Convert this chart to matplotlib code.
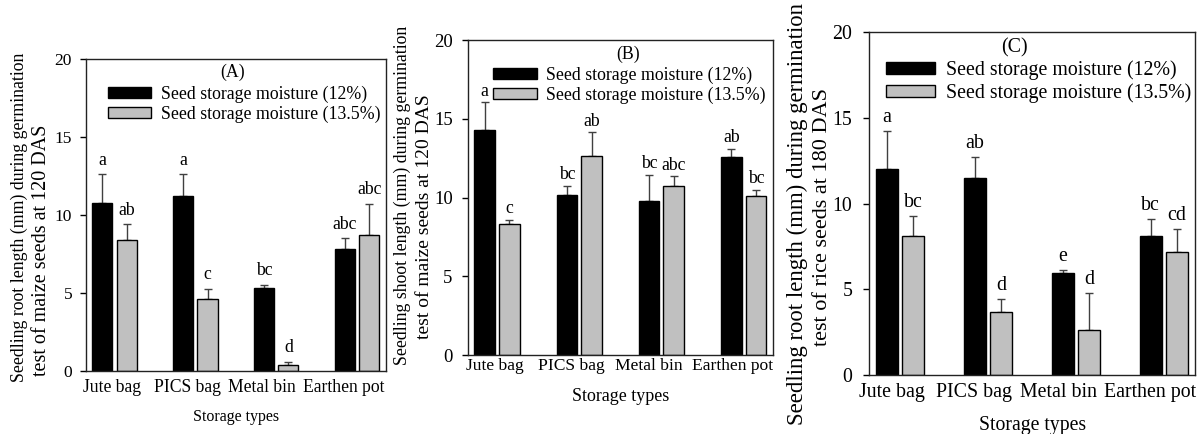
import numpy as np
import matplotlib
matplotlib.use('Agg')
import matplotlib.pyplot as plt

plt.rcParams['font.family'] = ['Liberation Serif', 'DejaVu Serif']

# data
storage_types = ['Jute bag', 'PICS bag', 'Metal bin', 'Earthen pot']

# (A) root length, maize, 120 DAS
a_m12 = [10.8, 11.2, 5.3, 7.8]
a_m12_err = [1.8, 1.4, 0.2, 0.7]
a_m135 = [8.4, 4.6, 0.4, 8.7]
a_m135_err = [1.0, 0.65, 0.17, 2.0]
a_m12_letters = ['a', 'a', 'bc', 'abc']
a_m135_letters = ['ab', 'c', 'd', 'abc']

# (B) shoot length, maize, 120 DAS
b_m12 = [14.3, 10.15, 9.8, 12.6]
b_m12_err = [1.75, 0.6, 1.65, 0.5]
b_m135 = [8.3, 12.65, 10.75, 10.1]
b_m135_err = [0.3, 1.5, 0.62, 0.4]
b_m12_letters = ['a', 'bc', 'bc', 'ab']
b_m135_letters = ['c', 'ab', 'abc', 'bc']

# (C) root length, rice, 180 DAS
c_m12 = [12.0, 11.5, 5.95, 8.1]
c_m12_err = [2.2, 1.2, 0.2, 0.97]
c_m135 = [8.1, 3.65, 2.6, 7.15]
c_m135_err = [1.2, 0.8, 2.2, 1.37]
c_m12_letters = ['a', 'ab', 'e', 'bc']
c_m135_letters = ['bc', 'd', 'd', 'cd']

legend_labels = ['Seed storage moisture (12%)', 'Seed storage moisture (13.5%)']

panels = [
    dict(tag='(A)', m12=a_m12, e12=a_m12_err, m135=a_m135, e135=a_m135_err,
         l12=a_m12_letters, l135=a_m135_letters,
         ylab1='Seedling root length (mm) during germination',
         ylab2='test of maize seeds at 120 DAS',
         rect=[0.0714, 0.1452, 0.2492, 0.7189], fs=12.8, tick_y=12.5, tick_x=12.7,
         ylab_fs=(12.8, 14.5), ylab_pos=((-0.222, 0.494), (-0.148, 0.388)),
         xlab_fs=11.5, xlab_y=-0.147, tag_pos=(0.487, 0.958),
         leg_anchor=(0.073, 0.915), letter_off=7, xpad=6, ypad=6,
         label_shift=[-0.03, -0.1, -0.18, -0.16]),
    dict(tag='(B)', m12=b_m12, e12=b_m12_err, m135=b_m135, e135=b_m135_err,
         l12=b_m12_letters, l135=b_m135_letters,
         ylab1='Seedling shoot length (mm) during germination',
         ylab2='test of maize seeds at 120 DAS',
         rect=[0.3887, 0.182, 0.2533, 0.7258], fs=12.8, tick_y=13.5, tick_x=12.6,
         ylab_fs=(12.8, 14.0), ylab_pos=((-0.216, 0.508), (-0.144, 0.438)),
         xlab_fs=12.9, xlab_y=-0.133, tag_pos=(0.525, 0.955),
         leg_anchor=(0.082, 0.915), letter_off=4.5, xpad=2, ypad=7,
         label_shift=[-0.025, -0.09, -0.15, -0.13]),
    dict(tag='(C)', m12=c_m12, e12=c_m12_err, m135=c_m135, e135=c_m135_err,
         l12=c_m12_letters, l135=c_m135_letters,
         ylab1='Seedling root length (mm) during germination',
         ylab2='test of rice seeds at 180 DAS',
         rect=[0.7218, 0.1359, 0.2708, 0.7903], fs=14.3, tick_y=14.3, tick_x=14.3,
         ylab_fs=(16.4, 16.0), ylab_pos=((-0.221, 0.469), (-0.142, 0.461)),
         xlab_fs=14.2, xlab_y=-0.146, tag_pos=(0.445, 0.955),
         leg_anchor=(0.052, 0.918), letter_off=6.5, xpad=6, ypad=8,
         label_shift=[-0.09, -0.16, -0.2, -0.15]),
]

fig = plt.figure(figsize=(12.04, 4.34), dpi=100)

x = np.arange(len(storage_types))
width = 0.25
shift = 0.15

for p in panels:
    ax = fig.add_axes(p['rect'])
    b1 = ax.bar(x - shift, p['m12'], width, color='black', edgecolor='black', linewidth=1,
                label=legend_labels[0], zorder=2)
    b2 = ax.bar(x + shift, p['m135'], width, color='#c0c0c0', edgecolor='black', linewidth=1,
                label=legend_labels[1], zorder=2)
    ax.errorbar(x - shift, p['m12'], yerr=[np.zeros(4), p['e12']], fmt='none',
                ecolor='#404040', elinewidth=1, capsize=3, capthick=1, zorder=1)
    ax.errorbar(x + shift, p['m135'], yerr=[np.zeros(4), p['e135']], fmt='none',
                ecolor='#404040', elinewidth=1, capsize=3, capthick=1, zorder=1)

    # significance letters
    for xs, vals, errs, letters in [(x - shift, p['m12'], p['e12'], p['l12']),
                                     (x + shift, p['m135'], p['e135'], p['l135'])]:
        for xi, v, e, lt in zip(xs, vals, errs, letters):
            ax.annotate(lt, (xi, v + e), xytext=(0, p['letter_off']), textcoords='offset points',
                        ha='center', va='baseline', fontsize=p['fs'])

    ax.set_xlim(-0.353, 3.357)
    ax.set_ylim(0, 20)
    ax.set_yticks([0, 5, 10, 15, 20])
    # the original tick labels sit a bit left of the bar groups
    ax.set_xticks(x + np.array(p['label_shift']))
    ax.set_xticklabels(storage_types, fontsize=p['tick_x'])
    ax.tick_params(axis='x', length=0, pad=p['xpad'])
    ax.tick_params(axis='y', direction='out', length=4, width=1, pad=p['ypad'],
                   labelsize=p['tick_y'])
    for s in ax.spines.values():
        s.set_linewidth(1)
        s.set_color('#222222')

    ax.text(*p['ylab_pos'][0], p['ylab1'], rotation=90, ha='center', va='center',
            fontsize=p['ylab_fs'][0], transform=ax.transAxes)
    ax.text(*p['ylab_pos'][1], p['ylab2'], rotation=90, ha='center', va='center',
            fontsize=p['ylab_fs'][1], transform=ax.transAxes)
    ax.text(0.5, p['xlab_y'], 'Storage types', ha='center', va='center',
            fontsize=p['xlab_fs'], transform=ax.transAxes)
    ax.text(*p['tag_pos'], p['tag'], ha='center', va='center', fontsize=p['fs'],
            transform=ax.transAxes)

    ax.legend(handles=[b1, b2], loc='upper left', bbox_to_anchor=p['leg_anchor'],
              frameon=False, fontsize=p['fs'], borderpad=0, borderaxespad=0,
              handlelength=2.45, handleheight=0.55, handletextpad=0.55, labelspacing=0.15)

fig.savefig('out.png', dpi=100)
